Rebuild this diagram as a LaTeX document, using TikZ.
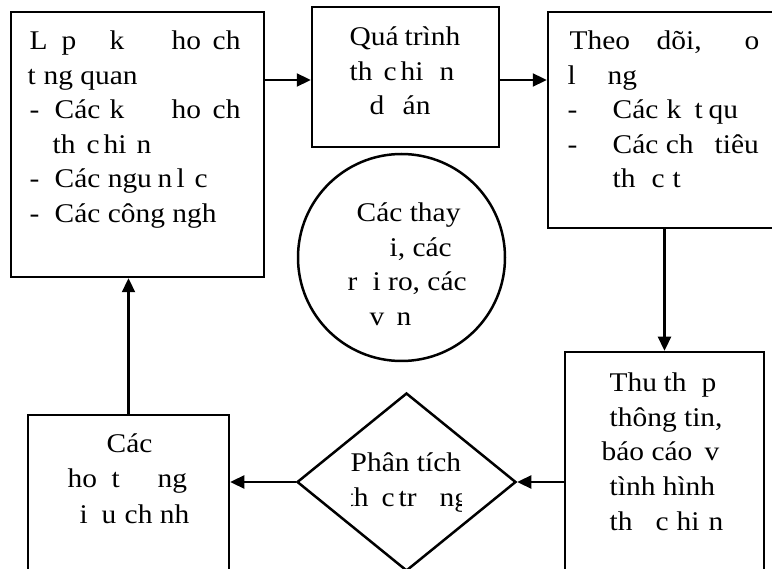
\documentclass[tikz,border=0pt]{standalone}
\usepackage{fontspec}
\setmainfont{Liberation Serif}[FakeStretch=1.09]
\usetikzlibrary{arrows.meta,shapes.geometric}
% place a word at a fixed horizontal offset from the start of its line
\newcommand\wordat[2]{\makebox[0pt][l]{\hspace*{#1pt}#2}}
\begin{document}
\begin{tikzpicture}[x=1pt,y=-1pt,
  box/.style={draw, line width=2.5pt, inner sep=0pt},
  flow/.style={draw, line width=2.3pt, -{Triangle[length=14pt,width=13pt]}},
  lbl/.style={anchor=base west, inner sep=0pt, font=\fontsize{27}{34.5}\selectfont}]
\useasboundingbox (0,0) rectangle (772,569);
\clip (0,0) rectangle (772,569);

% shapes
\node[box, minimum width=253pt, minimum height=265pt] (b1) at (137.5,144.5) {};
\node[box, minimum width=187pt, minimum height=140pt] (b2) at (405.5,77) {};
\node[box, minimum width=242pt, minimum height=216pt] (b3) at (669,120) {};
\node[box, minimum width=199pt, minimum height=248pt] (b4) at (664.5,476) {};
\node[box, minimum width=201pt, minimum height=185pt] (b5) at (128.5,507.5) {};
\node[box, shape=diamond, minimum width=219pt, minimum height=178pt] (d) at (406.5,482) {};
\node[box, circle, minimum size=207pt] (c) at (401.5,257.5) {};

% connectors
\coordinate (in2) at ([yshift=-3pt]b2.west);
\coordinate (out2) at ([yshift=-3pt]b2.east);
\draw[flow] (b1.east |- in2) -- (in2);
\draw[flow] (out2) -- (b3.west |- out2);
\draw[flow] (b3.south -| b4.north) -- (b4.north);
\draw[flow] (b4.west |- d.east) -- (d.east);
\draw[flow] (d.west) -- (b5.east |- d.west);
\draw[flow] (b5.north) -- (b1.south -| b5.north);

% text of the first box
\node[lbl] (b1t1) at (-1,50) {\wordat{30}{L}\wordat{62}{p}\wordat{110}{k}\wordat{172}{ho}\wordat{213}{ch}};
\node[lbl] (b1t2) at (-1,84.5) {\wordat{28}{t}\wordat{44}{ng quan}};
\node[lbl] (b1t3) at (-1,119) {\wordat{30}{-}\wordat{55}{Các}\wordat{110}{k}\wordat{172}{ho}\wordat{213}{ch}};
\node[lbl] (b1t4) at (-1,153.5) {\wordat{53}{th}\wordat{87}{c}\wordat{104}{hi}\wordat{137}{n}};
\node[lbl] (b1t5) at (-1,188) {\wordat{30}{-}\wordat{55}{Các ngu}\wordat{158}{n}\wordat{177}{l}\wordat{195}{c}};
\node[lbl] (b1t6) at (-1,222.5) {\wordat{30}{-}\wordat{55}{Các công ngh}};

% second box
\node[lbl] (b2t1) at (-1,46) {\wordat{350}{Quá}\wordat{405}{trình}};
\node[lbl] (b2t2) at (-1,80.5) {\wordat{350}{th}\wordat{384}{c}\wordat{401}{hi}\wordat{440}{n}};
\node[lbl] (b2t3) at (-1,115) {\wordat{370}{d}\wordat{403}{án}};

% third box
\node[lbl] (b3t1) at (-1,50) {\wordat{570}{Theo}\wordat{657}{dõi,}\wordat{745}{o}};
\node[lbl] (b3t2) at (-1,84.5) {\wordat{568}{l}\wordat{608}{ng}};
\node[lbl] (b3t3) at (-1,119) {\wordat{568}{-}\wordat{613}{Các}\wordat{667}{k}\wordat{695}{t}\wordat{709}{qu}};
\node[lbl] (b3t4) at (-1,153.5) {\wordat{568}{-}\wordat{613}{Các ch}\wordat{715}{tiêu}};
\node[lbl] (b3t5) at (-1,188) {\wordat{613}{th}\wordat{652}{c}\wordat{673}{t}};

% fourth box
\node[lbl] (b4t1) at (-1,392) {\wordat{610}{Thu}\wordat{664}{th}\wordat{702}{p}};
\node[lbl] (b4t2) at (-1,426.5) {\wordat{610}{thông tin,}};
\node[lbl] (b4t3) at (-1,461) {\wordat{602}{báo cáo}\wordat{705}{v}};
\node[lbl] (b4t4) at (-1,495.5) {\wordat{610}{tình hình}};
\node[lbl] (b4t5) at (-1,530) {\wordat{610}{th}\wordat{656}{c}\wordat{677}{hi}\wordat{709}{n}};

% fifth box
\node[lbl] (b5t1) at (-1,453) {\wordat{107}{Các}};
\node[lbl] (b5t2) at (-1,488) {\wordat{68}{ho}\wordat{112}{t}\wordat{158}{ng}};
\node[lbl] (b5t3) at (-1,523) {\wordat{80}{i}\wordat{102}{u}\wordat{125}{ch nh}};

% circle
\node[lbl] (ct1) at (-1,222) {\wordat{357}{Các thay}};
\node[lbl] (ct2) at (-1,256.5) {\wordat{390}{i, các}};
\node[lbl] (ct3) at (-1,291) {\wordat{348}{r}\wordat{373}{i ro, các}};
\node[lbl] (ct4) at (-1,325.5) {\wordat{370}{v}\wordat{397}{n}};

% diamond, its text cut to a narrow frame
\begin{scope}
\clip (351,430) rectangle (461,530);
\node[lbl] (dt1) at (-1,472) {\wordat{351}{Phân tích}};
\node[lbl] (dt2) at (-1,507) {\wordat{346}{th}\wordat{382}{c}\wordat{399}{tr}\wordat{440}{ng}};
\end{scope}
\end{tikzpicture}
\end{document}
